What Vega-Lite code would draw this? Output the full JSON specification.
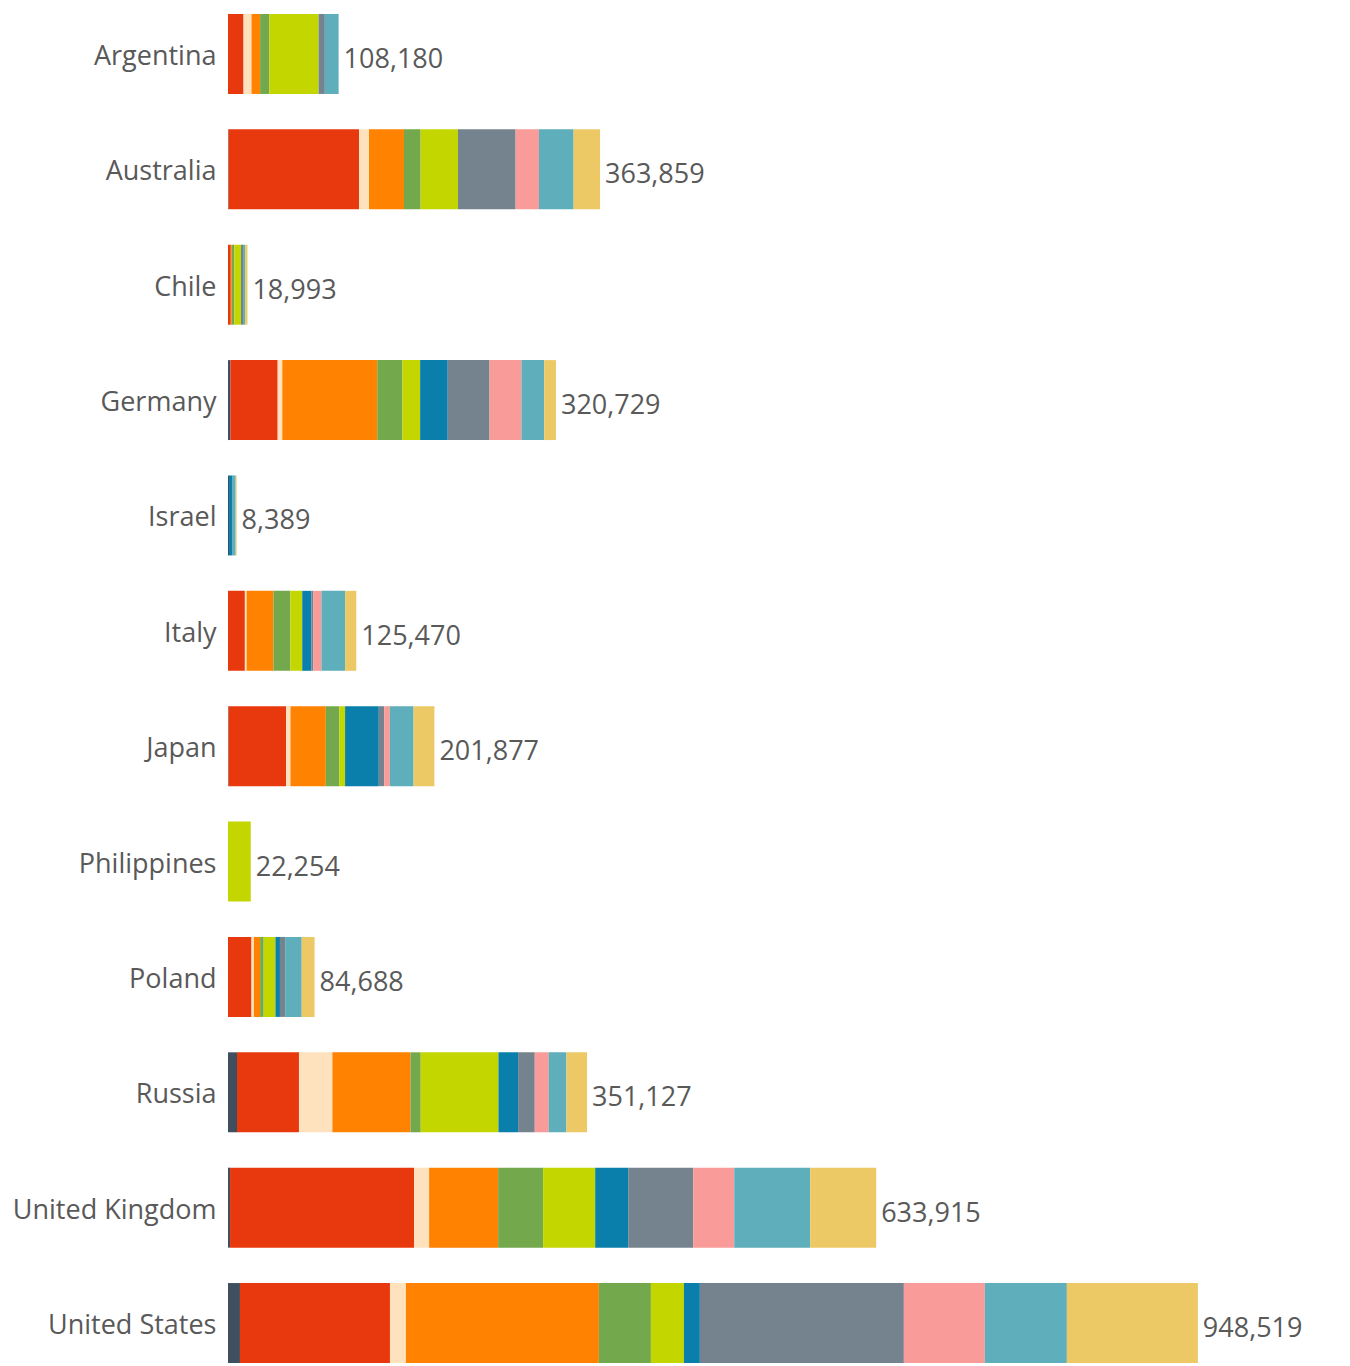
{
  "$schema": "https://vega.github.io/schema/vega-lite/v6.json",
  "width": 1100,
  "height": 1349,
  "autosize": {"type": "none"},
  "padding": {"left": 228, "top": 14, "right": 22, "bottom": 3},
  "background": "white",
  "config": {"view": {"stroke": null}},
  "data": {
    "values": [
      {"country": "Argentina", "cat": "c02", "value": 15200},
      {"country": "Argentina", "cat": "c03", "value": 7800},
      {"country": "Argentina", "cat": "c04", "value": 8400},
      {"country": "Argentina", "cat": "c05", "value": 9100},
      {"country": "Argentina", "cat": "c06", "value": 48100},
      {"country": "Argentina", "cat": "c08", "value": 6100},
      {"country": "Argentina", "cat": "c10", "value": 13480},

      {"country": "Australia", "cat": "c01", "value": 500},
      {"country": "Australia", "cat": "c02", "value": 127600},
      {"country": "Australia", "cat": "c03", "value": 9800},
      {"country": "Australia", "cat": "c04", "value": 34200},
      {"country": "Australia", "cat": "c05", "value": 16300},
      {"country": "Australia", "cat": "c06", "value": 36500},
      {"country": "Australia", "cat": "c08", "value": 56400},
      {"country": "Australia", "cat": "c09", "value": 22800},
      {"country": "Australia", "cat": "c10", "value": 33900},
      {"country": "Australia", "cat": "c11", "value": 25859},

      {"country": "Chile", "cat": "c02", "value": 2700},
      {"country": "Chile", "cat": "c04", "value": 1000},
      {"country": "Chile", "cat": "c05", "value": 2500},
      {"country": "Chile", "cat": "c06", "value": 6500},
      {"country": "Chile", "cat": "c08", "value": 2000},
      {"country": "Chile", "cat": "c10", "value": 2000},
      {"country": "Chile", "cat": "c11", "value": 2293},

      {"country": "Germany", "cat": "c01", "value": 2400},
      {"country": "Germany", "cat": "c02", "value": 46200},
      {"country": "Germany", "cat": "c03", "value": 4500},
      {"country": "Germany", "cat": "c04", "value": 92900},
      {"country": "Germany", "cat": "c05", "value": 24600},
      {"country": "Germany", "cat": "c06", "value": 17300},
      {"country": "Germany", "cat": "c07", "value": 27000},
      {"country": "Germany", "cat": "c08", "value": 40900},
      {"country": "Germany", "cat": "c09", "value": 31200},
      {"country": "Germany", "cat": "c10", "value": 22300},
      {"country": "Germany", "cat": "c11", "value": 11429},

      {"country": "Israel", "cat": "c01", "value": 1000},
      {"country": "Israel", "cat": "c07", "value": 3500},
      {"country": "Israel", "cat": "c10", "value": 3000},
      {"country": "Israel", "cat": "c11", "value": 889},

      {"country": "Italy", "cat": "c02", "value": 16500},
      {"country": "Italy", "cat": "c03", "value": 1700},
      {"country": "Italy", "cat": "c04", "value": 26300},
      {"country": "Italy", "cat": "c05", "value": 16500},
      {"country": "Italy", "cat": "c06", "value": 11600},
      {"country": "Italy", "cat": "c07", "value": 8900},
      {"country": "Italy", "cat": "c08", "value": 2000},
      {"country": "Italy", "cat": "c09", "value": 7900},
      {"country": "Italy", "cat": "c10", "value": 23100},
      {"country": "Italy", "cat": "c11", "value": 10970},

      {"country": "Japan", "cat": "c01", "value": 500},
      {"country": "Japan", "cat": "c02", "value": 56300},
      {"country": "Japan", "cat": "c03", "value": 4300},
      {"country": "Japan", "cat": "c04", "value": 34600},
      {"country": "Japan", "cat": "c05", "value": 13200},
      {"country": "Japan", "cat": "c06", "value": 5600},
      {"country": "Japan", "cat": "c07", "value": 33000},
      {"country": "Japan", "cat": "c08", "value": 5300},
      {"country": "Japan", "cat": "c09", "value": 5500},
      {"country": "Japan", "cat": "c10", "value": 23200},
      {"country": "Japan", "cat": "c11", "value": 20377},

      {"country": "Philippines", "cat": "c06", "value": 22254},

      {"country": "Poland", "cat": "c02", "value": 23000},
      {"country": "Poland", "cat": "c03", "value": 2300},
      {"country": "Poland", "cat": "c04", "value": 6100},
      {"country": "Poland", "cat": "c05", "value": 3500},
      {"country": "Poland", "cat": "c06", "value": 11500},
      {"country": "Poland", "cat": "c07", "value": 4400},
      {"country": "Poland", "cat": "c08", "value": 5100},
      {"country": "Poland", "cat": "c10", "value": 16200},
      {"country": "Poland", "cat": "c11", "value": 12588},

      {"country": "Russia", "cat": "c01", "value": 8800},
      {"country": "Russia", "cat": "c02", "value": 60600},
      {"country": "Russia", "cat": "c03", "value": 32700},
      {"country": "Russia", "cat": "c04", "value": 76300},
      {"country": "Russia", "cat": "c05", "value": 10100},
      {"country": "Russia", "cat": "c06", "value": 76000},
      {"country": "Russia", "cat": "c07", "value": 19200},
      {"country": "Russia", "cat": "c08", "value": 16300},
      {"country": "Russia", "cat": "c09", "value": 13700},
      {"country": "Russia", "cat": "c10", "value": 17300},
      {"country": "Russia", "cat": "c11", "value": 20127},

      {"country": "United Kingdom", "cat": "c01", "value": 2000},
      {"country": "United Kingdom", "cat": "c02", "value": 180000},
      {"country": "United Kingdom", "cat": "c03", "value": 14700},
      {"country": "United Kingdom", "cat": "c04", "value": 67500},
      {"country": "United Kingdom", "cat": "c05", "value": 44000},
      {"country": "United Kingdom", "cat": "c06", "value": 50900},
      {"country": "United Kingdom", "cat": "c07", "value": 32300},
      {"country": "United Kingdom", "cat": "c08", "value": 63600},
      {"country": "United Kingdom", "cat": "c09", "value": 40100},
      {"country": "United Kingdom", "cat": "c10", "value": 74300},
      {"country": "United Kingdom", "cat": "c11", "value": 64515},

      {"country": "United States", "cat": "c01", "value": 11700},
      {"country": "United States", "cat": "c02", "value": 146700},
      {"country": "United States", "cat": "c03", "value": 15600},
      {"country": "United States", "cat": "c04", "value": 188700},
      {"country": "United States", "cat": "c05", "value": 50900},
      {"country": "United States", "cat": "c06", "value": 32300},
      {"country": "United States", "cat": "c07", "value": 15600},
      {"country": "United States", "cat": "c08", "value": 199500},
      {"country": "United States", "cat": "c09", "value": 79200},
      {"country": "United States", "cat": "c10", "value": 80200},
      {"country": "United States", "cat": "c11", "value": 128119}
    ]
  },
  "encoding": {
    "y": {
      "field": "country",
      "type": "nominal",
      "sort": null,
      "scale": {"paddingInner": 0.307, "paddingOuter": 0},
      "axis": {
        "title": null,
        "domain": false,
        "ticks": false,
        "labelPadding": 12,
        "labelOffset": 3,
        "labelFont": "Open Sans",
        "labelFontSize": 27,
        "labelColor": "#595959",
        "labelLimit": 300
      }
    }
  },
  "layer": [
    {
      "mark": {"type": "bar", "stroke": null},
      "encoding": {
        "x": {
          "field": "value",
          "type": "quantitative",
          "aggregate": "sum",
          "stack": "zero",
          "scale": {"domain": [0, 1075800], "nice": false},
          "axis": null
        },
        "color": {
          "field": "cat",
          "type": "nominal",
          "scale": {
            "domain": ["c01", "c02", "c03", "c04", "c05", "c06", "c07", "c08", "c09", "c10", "c11"],
            "range": ["#3f4f60", "#e8380d", "#fde2bd", "#ff8200", "#73a84d", "#c4d600", "#0a7fab", "#75838f", "#f99b98", "#5eaebb", "#ecc964"]
          },
          "legend": null
        },
        "order": {"field": "cat", "type": "nominal", "sort": "ascending"}
      }
    },
    {
      "mark": {
        "type": "text",
        "align": "left",
        "baseline": "middle",
        "dx": 5,
        "dy": 6,
        "font": "Open Sans",
        "fontSize": 27,
        "color": "#595959"
      },
      "encoding": {
        "x": {"field": "value", "type": "quantitative", "aggregate": "sum"},
        "text": {"field": "value", "type": "quantitative", "aggregate": "sum", "format": ","}
      }
    }
  ]
}
